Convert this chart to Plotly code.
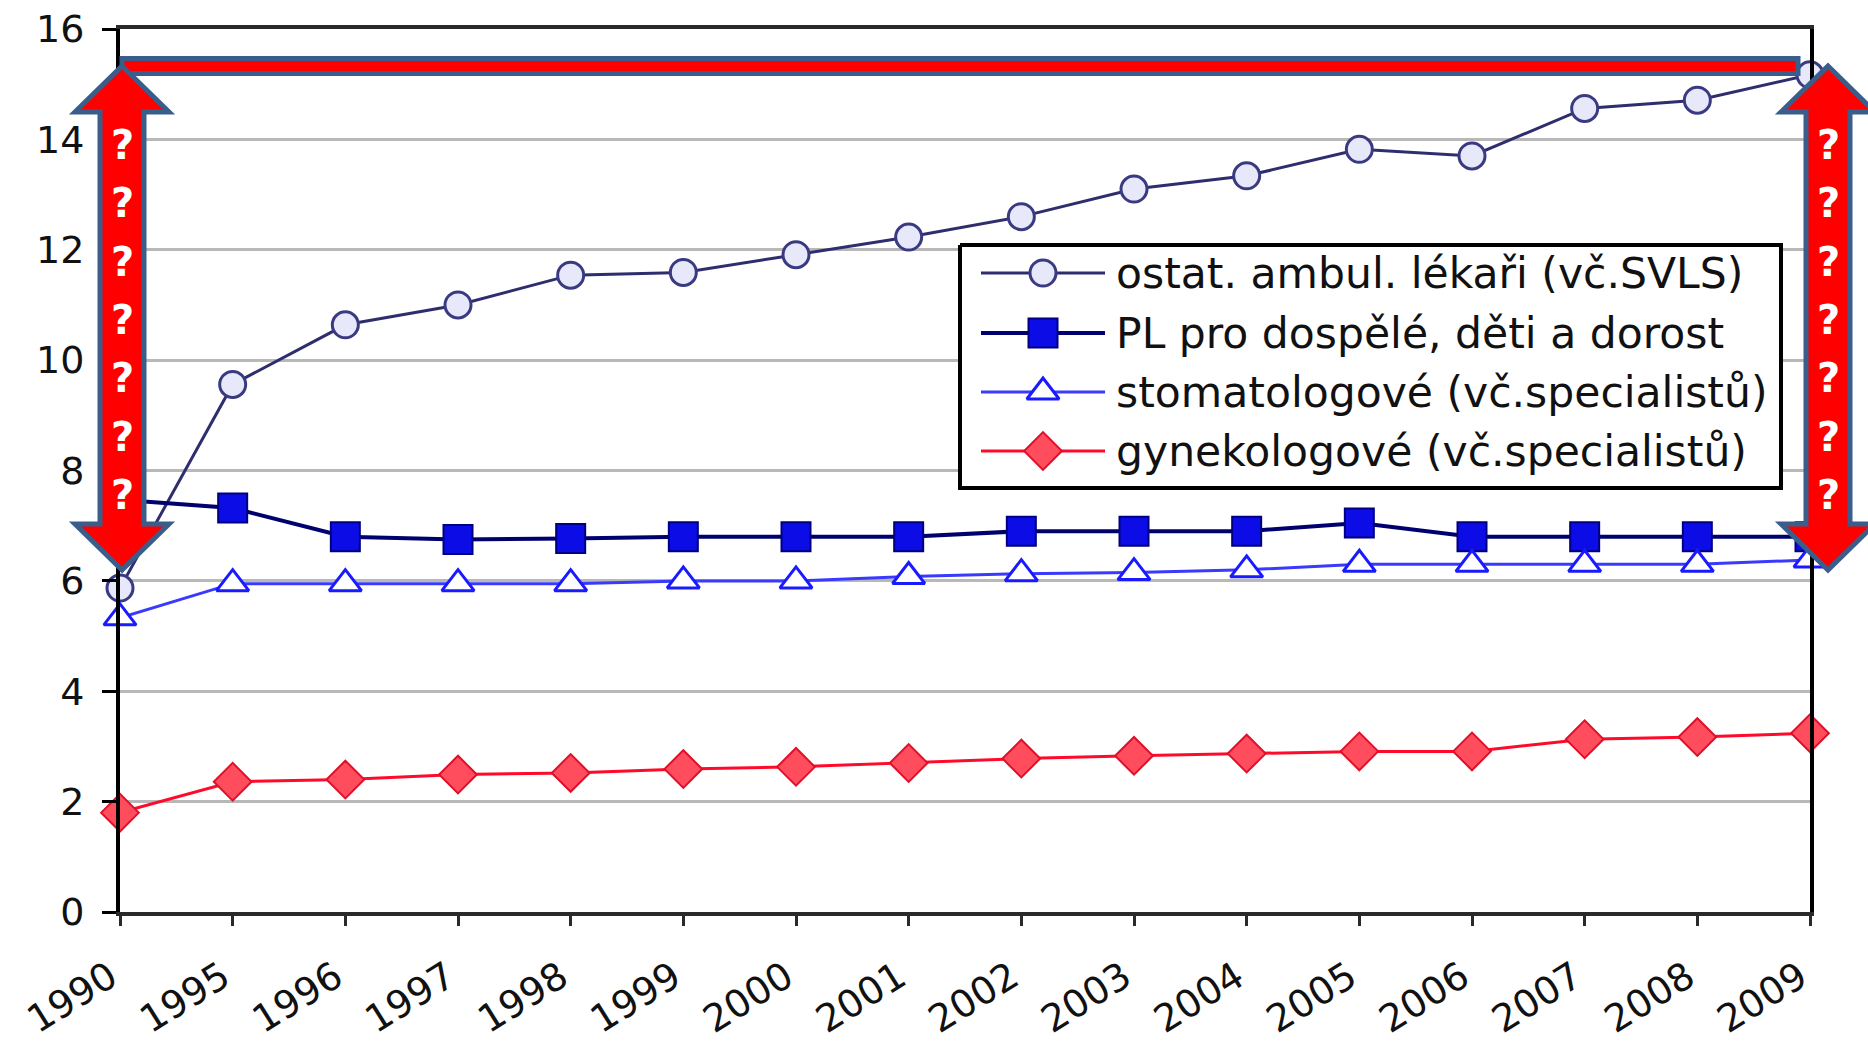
import plotly.graph_objects as go

# Počet lékařů podle oborů (v tisících), 1990–2009
years = ["1990", "1995", "1996", "1997", "1998", "1999", "2000", "2001",
         "2002", "2003", "2004", "2005", "2006", "2007", "2008", "2009"]

ostat_ambul = [5.87, 9.56, 10.64, 11.0, 11.54, 11.59, 11.91, 12.23,
               12.6, 13.1, 13.34, 13.82, 13.7, 14.56, 14.71, 15.17]
pl_dospeli = [7.47, 7.32, 6.8, 6.75, 6.77, 6.8, 6.8, 6.8,
              6.9, 6.9, 6.9, 7.05, 6.8, 6.8, 6.8, 6.8]
stomatologove = [5.33, 5.95, 5.95, 5.95, 5.95, 6.0, 6.0, 6.08,
                 6.13, 6.15, 6.2, 6.3, 6.3, 6.3, 6.3, 6.38]
gynekologove = [1.8, 2.36, 2.4, 2.49, 2.52, 2.59, 2.63, 2.7,
                2.78, 2.83, 2.87, 2.91, 2.91, 3.13, 3.17, 3.24]

series_names = ["ostat. ambul. lékaři (vč.SVLS)",
                "PL pro dospělé, děti a dorost",
                "stomatologové (vč.specialistů)",
                "gynekologové (vč.specialistů)"]

y_ticks = [0, 2, 4, 6, 8, 10, 12, 14, 16]

FONT = "DejaVu Sans"

# figure geometry (pixels)
W_PX, H_PX = 1868, 1049
M_L, M_R, M_T, M_B = 120, 58, 29, 137
PLOT_W = W_PX - M_L - M_R
PLOT_H = H_PX - M_T - M_B
Y_BOTTOM = M_T + PLOT_H


def px(x):
    return (x - M_L) / PLOT_W


def py(y):
    return (Y_BOTTOM - y) / PLOT_H


styles = [
    dict(line=dict(color="#2e2e6e", width=3),
         marker=dict(symbol="circle", size=26, color="#e8e8fb",
                     line=dict(color="#3a3a82", width=3))),
    dict(line=dict(color="#00006e", width=4),
         marker=dict(symbol="square", size=29, color="#0c0ce6",
                     line=dict(color="#000080", width=2))),
    dict(line=dict(color="#3a3aff", width=3),
         marker=dict(symbol="triangle-up", size=28, color="#ffffff",
                     line=dict(color="#1a1aff", width=3))),
    dict(line=dict(color="#ff0a2a", width=3),
         marker=dict(symbol="diamond", size=29, color="#ff4d5e",
                     line=dict(color="#e0102a", width=2))),
]

fig = go.Figure()

for name, vals, st in zip(series_names,
                          [ostat_ambul, pl_dospeli, stomatologove, gynekologove],
                          styles):
    fig.add_trace(go.Scatter(x=years, y=vals, name=name, mode="lines+markers",
                             line=st["line"], marker=st["marker"],
                             cliponaxis=False, showlegend=False,
                             xaxis="x", yaxis="y"))

# legend drawn on an overlay pixel grid
LX0, LX1, LY0, LY1 = 960, 1781, 245, 488
fig.add_trace(go.Scatter(x=[LX0, LX1, LX1, LX0, LX0], y=[LY0, LY0, LY1, LY1, LY0],
                         mode="lines", fill="toself", fillcolor="#ffffff",
                         line=dict(color="#000000", width=4),
                         showlegend=False, hoverinfo="skip",
                         xaxis="x2", yaxis="y2"))
row_y = [273, 333, 392, 451]
for ry, st in zip(row_y, styles):
    fig.add_trace(go.Scatter(x=[981, 1105], y=[ry, ry], mode="lines",
                             line=st["line"], showlegend=False, hoverinfo="skip",
                             xaxis="x2", yaxis="y2"))
    fig.add_trace(go.Scatter(x=[1043], y=[ry], mode="markers",
                             marker=st["marker"], showlegend=False, hoverinfo="skip",
                             xaxis="x2", yaxis="y2"))

annotations = []
for ry, name in zip(row_y, series_names):
    annotations.append(dict(x=px(1114), y=py(ry), xref="paper", yref="paper",
                            text=name, showarrow=False, xanchor="left",
                            yanchor="middle",
                            font=dict(family=FONT, size=42.5, color="#111111")))

# red double arrows and top bar
OUTLINE = "#3a5e8c"


def double_arrow(cx, top, bot, head_w=47, shaft_w=22, head_h=46):
    pts = [(cx, top), (cx + head_w, top + head_h), (cx + shaft_w, top + head_h),
           (cx + shaft_w, bot - head_h), (cx + head_w, bot - head_h), (cx, bot),
           (cx - head_w, bot - head_h), (cx - shaft_w, bot - head_h),
           (cx - shaft_w, top + head_h), (cx - head_w, top + head_h)]
    return "M " + " L ".join(f"{px(x):.5f},{py(y):.5f}" for x, y in pts) + " Z"


shapes = [
    dict(type="rect", xref="paper", yref="paper",
         x0=px(122), x1=px(1798), y0=py(58.5), y1=py(73.5),
         fillcolor="#ff0000", line=dict(color=OUTLINE, width=5), layer="above"),
]
q_y = [142, 200, 259, 317, 375, 434, 492]
for cx in (122, 1828):
    shapes.append(dict(type="path", xref="paper", yref="paper",
                       path=double_arrow(cx, 66, 570),
                       fillcolor="#ff0000", line=dict(color=OUTLINE, width=5),
                       layer="above"))
    for qy in q_y:
        annotations.append(dict(x=px(cx), y=py(qy + 3), xref="paper", yref="paper",
                                text="<b>?</b>", showarrow=False,
                                xanchor="center", yanchor="middle",
                                font=dict(family=FONT, size=40, color="#ffffff")))

fig.update_layout(
    width=W_PX, height=H_PX,
    margin=dict(l=M_L, r=M_R, t=M_T, b=M_B, pad=0, autoexpand=False),
    paper_bgcolor="#ffffff", plot_bgcolor="#ffffff",
    showlegend=False,
    font=dict(family=FONT, color="#111111"),
    xaxis=dict(type="category", categoryorder="array", categoryarray=years,
               range=[0, len(years) - 1], showgrid=False, zeroline=False,
               automargin=False,
               showline=True, linecolor="#2a2a2a", linewidth=4, mirror=True,
               ticks="outside", ticklen=10, tickwidth=3, tickcolor="#2a2a2a",
               tickangle=-32, ticklabelstandoff=14, ticklabelshift=-10,
               tickfont=dict(family=FONT, size=38, color="#111111")),
    yaxis=dict(range=[0, 16], tickvals=y_ticks, showgrid=True,
               gridcolor="#b8b8b8", gridwidth=3, zeroline=False,
               automargin=False,
               showline=True, linecolor="#000000", linewidth=4, mirror=True,
               ticks="outside", ticklen=14, tickwidth=3, tickcolor="#000000",
               ticklabelstandoff=10,
               tickfont=dict(family=FONT, size=38, color="#111111")),
    xaxis2=dict(domain=[0, 1], range=[M_L, W_PX - M_R], overlaying="x",
                anchor="y2", visible=False, fixedrange=True, automargin=False),
    yaxis2=dict(domain=[0, 1], range=[Y_BOTTOM, M_T], overlaying="y",
                anchor="x2", visible=False, fixedrange=True, automargin=False),
    shapes=shapes,
    annotations=annotations,
)

fig.write_html("out.html")
